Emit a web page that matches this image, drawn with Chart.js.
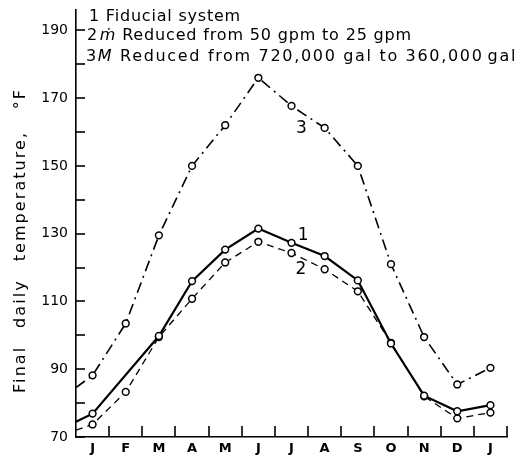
<!DOCTYPE html>
<html>
<head>
<meta charset="utf-8">
<script src="https://cdn.jsdelivr.net/npm/chart.js@4/dist/chart.umd.min.js"></script>
<style>
  html, body { margin: 0; padding: 0; background: #fff; }
  #wrap { width: 523px; height: 459px; }
</style>
</head>
<body>
<div id="wrap"><canvas id="tempChart" width="523" height="459"></canvas></div>
<script>
// month labels along the bottom
const months = ['J', 'F', 'M', 'A', 'M', 'J', 'J', 'A', 'S', 'O', 'N', 'D', 'J'];

// final daily temperature, deg F (null = no point plotted)
const fiducial = [76.9, null, 99.8, 116, 125.3, 131.5, 127.3, 123.4, 116.2, 97.6, 82.2, 77.6, 79.4];
const reducedFlow = [73.7, 83.3, 99.5, 110.8, 121.5, 127.6, 124.3, 119.5, 113, 97.8, 82, 75.5, 77.2];
const reducedMass = [88.2, 103.5, 129.5, 150, 162, 176, 167.7, 161.2, 150, 121, 99.5, 85.5, 90.4];

// where each curve enters at the left edge of the plot (carried over from December)
const edgeValues = [74.5, 72, 84.6];

const yTickLabels = [70, 90, 110, 130, 150, 170, 190];

function toPoints(values, edge) {
    const pts = [{ x: 0, y: edge }];
    values.forEach(function (v, i) {
        if (v !== null) pts.push({ x: i + 0.5, y: v });
    });
    return pts;
}

function radii(pts) {
    return pts.map(function (p) { return p.x === 0 ? 0 : 3.4; });
}

const fontFamily = '"DejaVu Sans", "Liberation Sans", sans-serif';

const p1 = toPoints(fiducial, edgeValues[0]);
const p2 = toPoints(reducedFlow, edgeValues[1]);
const p3 = toPoints(reducedMass, edgeValues[2]);

// spread text pieces [text, italic, gapFactor] evenly between x0 and x1
function drawFitted(ctx, pieces, x0, x1, y, size) {
    const fontFor = function (p) { return (p[1] ? 'italic ' : '') + size + 'px ' + fontFamily; };
    ctx.letterSpacing = '0px';
    ctx.font = size + 'px ' + fontFamily;
    const space = ctx.measureText(' ').width;
    let natural = 0, chars = 0;
    pieces.forEach(function (p, i) {
        ctx.font = fontFor(p);
        natural += ctx.measureText(p[0]).width;
        chars += p[0].length;
        if (i < pieces.length - 1) { natural += space * p[2]; chars += p[2]; }
    });
    const ls = Math.max(0, (x1 - x0 - natural) / chars);
    let x = x0;
    pieces.forEach(function (p) {
        ctx.font = fontFor(p);
        ctx.letterSpacing = '0px';
        const w = ctx.measureText(p[0]).width;
        ctx.letterSpacing = ls + 'px';
        ctx.fillText(p[0], x, y);
        x += w + p[0].length * ls + (space + ls) * p[2];
    });
    ctx.letterSpacing = '0px';
}

// inward tick marks, curve numbers and the key text
const decorations = {
    id: 'decorations',
    afterDraw: function (chart) {
        const ctx = chart.ctx;
        const xs = chart.scales.x;
        const ys = chart.scales.y;
        const area = chart.chartArea;
        ctx.save();
        ctx.strokeStyle = '#000';
        ctx.lineWidth = 1.6;
        for (let v = 70; v <= 190; v += 10) {
            const py = Math.round(ys.getPixelForValue(v));
            ctx.beginPath();
            ctx.moveTo(area.left, py);
            ctx.lineTo(area.left + 9, py);
            ctx.stroke();
        }
        for (let i = 1; i <= 13; i++) {
            const px = Math.round(xs.getPixelForValue(i));
            ctx.beginPath();
            ctx.moveTo(px, area.bottom);
            ctx.lineTo(px, area.bottom - 11);
            ctx.stroke();
        }

        ctx.fillStyle = '#000';
        ctx.textBaseline = 'middle';
        ctx.textAlign = 'center';
        ctx.font = '17px ' + fontFamily;
        ctx.fillText('1', xs.getPixelForValue(6.85), ys.getPixelForValue(129.5));
        ctx.fillText('2', xs.getPixelForValue(6.78), ys.getPixelForValue(119.5));
        ctx.fillText('3', xs.getPixelForValue(6.8), ys.getPixelForValue(161));

        // key
        ctx.textAlign = 'left';
        drawFitted(ctx, [['1', false, 1], ['Fiducial', false, 1], ['system', false, 0]], 89, 241, 17, 16);
        drawFitted(ctx, [['2', false, 0.3], ['\u1E41', true, 1], ['Reduced', false, 1], ['from', false, 1],
            ['50', false, 1], ['gpm', false, 1], ['to', false, 1], ['25', false, 1], ['gpm', false, 0]], 87, 412, 36, 16);
        drawFitted(ctx, [['3', false, 0], ['M', true, 1], ['Reduced', false, 1], ['from', false, 1],
            ['720,000', false, 1], ['gal', false, 1], ['to', false, 1], ['360,000', false, 0.6], ['gal', false, 0]], 86, 517, 57, 16);

        // axis title
        ctx.translate(21, 0);
        ctx.rotate(-Math.PI / 2);
        drawFitted(ctx, [['Final', false, 2.5], ['daily', false, 2.5], ['temperature,', false, 3], ['\u00B0F', false, 0]], -393, -88, 0, 16);
        ctx.restore();
    }
};

const ctx = document.getElementById('tempChart').getContext('2d');
new Chart(ctx, {
    type: 'line',
    data: {
        datasets: [{
            label: '1',
            data: p1,
            borderColor: '#000',
            borderWidth: 2.2,
            pointRadius: radii(p1),
            pointBackgroundColor: '#fff',
            pointBorderColor: '#000',
            pointBorderWidth: 1.5,
            tension: 0
        }, {
            label: '2',
            data: p2,
            borderColor: '#000',
            borderWidth: 1.3,
            borderDash: [7, 5],
            pointRadius: radii(p2),
            pointBackgroundColor: '#fff',
            pointBorderColor: '#000',
            pointBorderWidth: 1.5,
            tension: 0
        }, {
            label: '3',
            data: p3,
            borderColor: '#000',
            borderWidth: 1.6,
            borderDash: [11, 5, 2, 5],
            pointRadius: radii(p3),
            pointBackgroundColor: '#fff',
            pointBorderColor: '#000',
            pointBorderWidth: 1.5,
            tension: 0
        }]
    },
    options: {
        responsive: false,
        animation: false,
        layout: { padding: { top: 10, right: 16, left: 0, bottom: 0 } },
        plugins: { legend: { display: false }, tooltip: { enabled: false } },
        scales: {
            x: {
                type: 'linear',
                min: 0,
                max: 13,
                afterBuildTicks: function (scale) {
                    scale.ticks = months.map(function (m, i) { return { value: i + 0.5 }; });
                },
                afterFit: function (scale) { scale.height = 22; },
                grid: { display: false, drawTicks: false },
                border: { display: true, color: '#000', width: 1.6 },
                ticks: {
                    autoSkip: false,
                    maxRotation: 0,
                    padding: 4,
                    color: '#000',
                    font: { family: fontFamily, size: 13, weight: 'bold' },
                    callback: function (v, i) { return months[i]; }
                }
            },
            y: {
                min: 70,
                max: 196,
                afterFit: function (scale) {
                    scale.width = 76;
                    scale.paddingTop = 0;
                },
                grid: { display: false, drawTicks: false },
                border: { display: true, color: '#000', width: 1.6 },
                ticks: {
                    stepSize: 10,
                    includeBounds: false,
                    padding: 8,
                    color: '#000',
                    font: { family: fontFamily, size: 14 },
                    callback: function (v) { return yTickLabels.indexOf(v) >= 0 ? String(v) : ''; }
                }
            }
        }
    },
    plugins: [decorations]
});
</script>
</body>
</html>
